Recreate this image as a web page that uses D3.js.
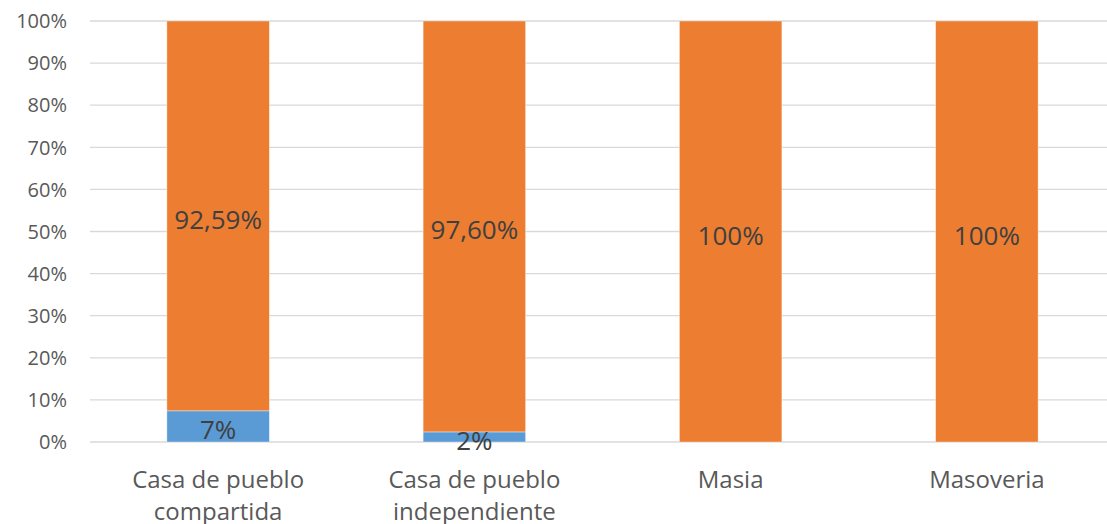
<!DOCTYPE html>
<html>
<head>
<meta charset="utf-8">
<script src="https://cdn.jsdelivr.net/npm/d3@7"></script>
<style>
  body { margin: 0; background: #fff; }
  svg { font-family: "Open Sans", "Noto Sans", sans-serif; }
</style>
</head>
<body>
<svg width="1107" height="524"></svg>
<script>
// Data
const categories = ["Casa de pueblo compartida", "Casa de pueblo independiente", "Masia", "Masoveria"];
const categoryLines = [["Casa de pueblo", "compartida"], ["Casa de pueblo", "independiente"], ["Masia"], ["Masoveria"]];
const sharedValues = [7.41, 2.40, 0, 0];       // blue segment (%)
const otherValues = [92.59, 97.60, 100, 100];  // orange segment (%)
const sharedLabels = ["7%", "2%", "", ""];
const otherLabels = ["92,59%", "97,60%", "100%", "100%"];
const yTicks = [0, 10, 20, 30, 40, 50, 60, 70, 80, 90, 100];

const width = 1107, height = 524;
const svg = d3.select("svg");

const x = d3.scaleBand()
    .domain(categories)
    .range([90, 1115])
    .paddingInner(0.6)
    .paddingOuter(0.3);

const y = d3.scaleLinear()
    .domain([0, 100])
    .range([442, 21]);

// Gridlines
svg.append("g")
    .selectAll("line")
    .data(yTicks)
    .enter()
    .append("line")
    .attr("x1", 90)
    .attr("x2", width)
    .attr("y1", d => y(d))
    .attr("y2", d => y(d))
    .attr("stroke", "#d9d9d9")
    .attr("stroke-width", 1.3);

// Y axis labels
svg.append("g")
    .selectAll("text")
    .data(yTicks)
    .enter()
    .append("text")
    .attr("x", 67)
    .attr("y", d => y(d))
    .attr("dy", "0.36em")
    .attr("text-anchor", "end")
    .attr("fill", "#595959")
    .style("font-size", "20px")
    .text(d => d + "%");

// Stacked bars
const stack = categories.map((c, i) => ({
    cat: c,
    segs: [
        { y0: 0, y1: sharedValues[i], color: "#5b9bd5", label: sharedLabels[i] },
        { y0: sharedValues[i], y1: sharedValues[i] + otherValues[i], color: "#ed7d31", label: otherLabels[i] }
    ]
}));

const groups = svg.selectAll(".bar")
    .data(stack)
    .enter()
    .append("g")
    .attr("class", "bar");

groups.selectAll("rect")
    .data(d => d.segs.filter(s => s.y1 > s.y0).map(s => ({ ...s, cat: d.cat })))
    .enter()
    .append("rect")
    .attr("x", d => x(d.cat))
    .attr("width", x.bandwidth())
    .attr("y", d => y(d.y1))
    .attr("height", d => y(d.y0) - y(d.y1))
    .attr("fill", d => d.color)
    .attr("stroke", "#fff")
    .attr("stroke-opacity", 0.5)
    .attr("stroke-width", 0.75);

// Data labels
groups.selectAll("text")
    .data(d => d.segs.filter(s => s.label).map(s => ({ ...s, cat: d.cat })))
    .enter()
    .append("text")
    .attr("x", d => x(d.cat) + x.bandwidth() / 2)
    .attr("y", d => y((d.y0 + d.y1) / 2))
    .attr("dy", "0.5em")
    .attr("text-anchor", "middle")
    .attr("fill", "#404040")
    .style("font-size", "26px")
    .text(d => d.label);

// Category labels
const catText = svg.append("g")
    .selectAll("text")
    .data(categories)
    .enter()
    .append("text")
    .attr("x", d => x(d) + x.bandwidth() / 2)
    .attr("y", 488)
    .attr("text-anchor", "middle")
    .attr("fill", "#595959")
    .style("font-size", "24px");

catText.selectAll("tspan")
    .data((d, i) => categoryLines[i])
    .enter()
    .append("tspan")
    .attr("x", function () { return d3.select(this.parentNode).attr("x"); })
    .attr("dy", (d, i) => i === 0 ? 0 : 32)
    .text(d => d);
</script>
</body>
</html>
